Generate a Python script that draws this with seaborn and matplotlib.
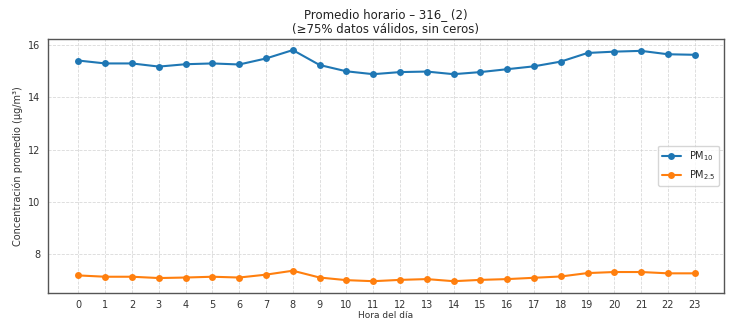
import numpy as np
import pandas as pd
import matplotlib
matplotlib.use("Agg")
import matplotlib.pyplot as plt
import seaborn as sns

HOURS = list(range(24))

PM10 = [15.40, 15.29, 15.29, 15.17, 15.26, 15.29, 15.25, 15.48, 15.80, 15.23,
        14.99, 14.88, 14.96, 14.98, 14.88, 14.96, 15.07, 15.18, 15.36, 15.69,
        15.74, 15.77, 15.64, 15.62]

PM25 = [7.20, 7.15, 7.15, 7.10, 7.12, 7.15, 7.12, 7.23, 7.38, 7.12,
        7.02, 6.98, 7.03, 7.06, 6.98, 7.03, 7.06, 7.11, 7.16, 7.29,
        7.33, 7.33, 7.28, 7.28]

LABEL_PM10 = "PM$_{10}$"
LABEL_PM25 = "PM$_{2.5}$"

BLUE = "#1f77b4"
ORANGE = "#ff7f0e"

df = pd.DataFrame({
    "Hora": HOURS * 2,
    "Valor": PM10 + PM25,
    "Serie": [LABEL_PM10] * 24 + [LABEL_PM25] * 24,
})

sns.set_style("white")
plt.rcParams["font.family"] = ["DejaVu Sans"]

fig = plt.figure(figsize=(7.33, 3.21), dpi=100)
ax = fig.add_axes([0.065, 0.088, 0.923, 0.792])

sns.lineplot(
    data=df, x="Hora", y="Valor", hue="Serie",
    palette=[BLUE, ORANGE], marker="o", markersize=5,
    markeredgewidth=0, linewidth=1.5, ax=ax
)

ax.set_xticks(HOURS)
ax.set_xlim(-1.15, 24.1)
ax.set_yticks([8, 10, 12, 14, 16])
ax.tick_params(labelsize=7, length=3, width=0.8, pad=2, colors="#333333")
ax.grid(True, linestyle="--", linewidth=0.6, color="#d0d0d0", alpha=0.8)
for s in ax.spines.values():
    s.set_color("#555555")
    s.set_linewidth(1.0)

ax.set_title("Promedio horario – 316_ (2)\n(≥75% datos válidos, sin ceros)",
             fontsize=8.5, color="#222222", pad=4)
ax.set_xlabel("Hora del día", fontsize=6.5, color="#333333", labelpad=1)
ax.set_ylabel("Concentración promedio (µg/m³)", fontsize=7, color="#333333", labelpad=4)

leg = ax.legend(loc="center right", fontsize=7, frameon=True, title=None)
leg.get_frame().set_edgecolor("#cccccc")

fig.savefig("out.png", dpi=100)
plt.close(fig)
